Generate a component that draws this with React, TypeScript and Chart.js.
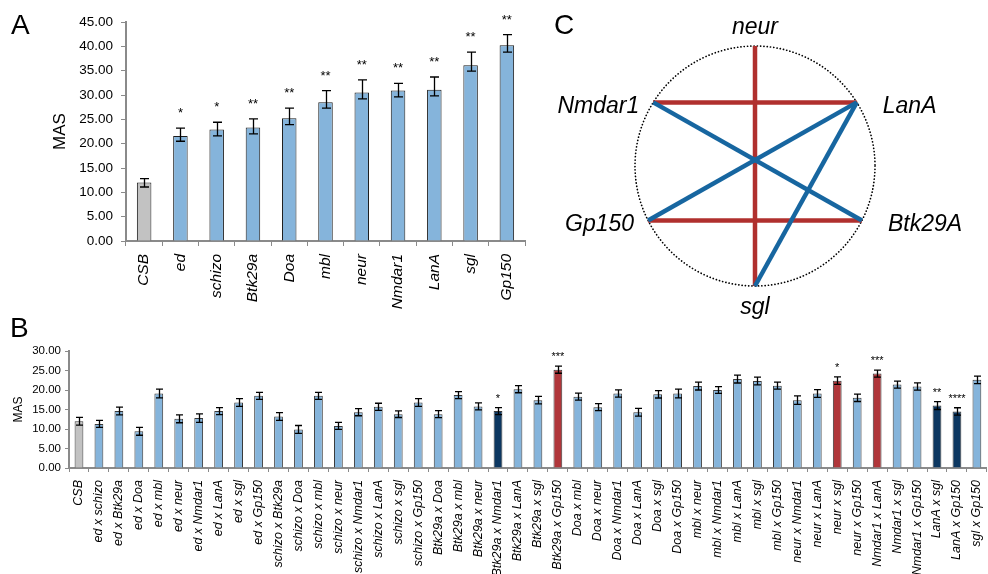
import React, { useEffect, useRef } from "react";
import { Chart, registerables } from "chart.js";

Chart.register(...registerables);

// ---------- Panel A data ----------
const aCategories = ["CSB", "ed", "schizo", "Btk29a", "Doa", "mbl", "neur", "Nmdar1", "LanA", "sgl", "Gp150"];
const aValues = [12.0, 21.6, 22.9, 23.3, 25.2, 28.5, 30.5, 30.9, 31.1, 36.1, 40.2];
const aErrUp = [0.8, 1.6, 1.5, 1.8, 2.1, 2.4, 2.6, 1.5, 2.6, 2.7, 2.2];
const aErrDown = [0.9, 1.1, 1.3, 1.3, 1.3, 1.2, 1.3, 1.3, 1.3, 1.2, 1.4];
const aStars = ["", "*", "*", "**", "**", "**", "**", "**", "**", "**", "**"];
const aTicks = { min: 0, max: 45, step: 5 };

// ---------- Panel B data ----------
const bCategories = [
  "CSB", "ed x schizo", "ed x Btk29a", "ed x Doa", "ed x mbl", "ed x neur", "ed x Nmdar1", "ed x LanA", "ed x sgl", "ed x Gp150",
  "schizo x Btk29a", "schizo x Doa", "schizo x mbl", "schizo x neur", "schizo x Nmdar1", "schizo x LanA", "schizo x sgl", "schizo x Gp150",
  "Btk29a x Doa", "Btk29a x mbl", "Btk29a x neur", "Btk29a x Nmdar1", "Btk29a x LanA", "Btk29a x sgl", "Btk29a x Gp150",
  "Doa x mbl", "Doa x neur", "Doa x Nmdar1", "Doa x LanA", "Doa x sgl", "Doa x Gp150",
  "mbl x neur", "mbl x Nmdar1", "mbl x LanA", "mbl x sgl", "mbl x Gp150",
  "neur x Nmdar1", "neur x LanA", "neur x sgl", "neur x Gp150",
  "Nmdar1 x LanA", "Nmdar1 x sgl", "Nmdar1 x Gp150",
  "LanA x sgl", "LanA x Gp150",
  "sgl x Gp150",
];
const bValues = [
  12.0, 11.3, 14.6, 9.4, 19.1, 12.6, 12.8, 14.6, 16.8, 18.5,
  13.2, 9.9, 18.5, 10.8, 14.3, 15.7, 13.8, 16.8,
  13.8, 18.7, 15.8, 14.6, 20.2, 17.4, 25.2,
  18.3, 15.6, 19.1, 14.3, 18.9, 19.1,
  21.0, 20.0, 22.8, 22.3, 21.1,
  17.4, 19.1, 22.4, 18.0,
  24.2, 21.4, 20.9,
  16.0, 14.5,
  22.6,
];
const bErrors = [
  1.0, 0.9, 1.0, 1.0, 1.1, 1.0, 1.1, 0.9, 1.0, 0.9,
  1.0, 1.0, 0.9, 0.9, 0.9, 0.9, 0.85, 1.0,
  0.9, 0.9, 0.9, 0.9, 0.9, 0.95, 0.9,
  0.9, 0.9, 0.95, 1.0, 0.95, 1.1,
  1.0, 0.85, 1.0, 1.0, 0.9,
  1.1, 1.0, 0.95, 0.95,
  0.9, 0.9, 0.95,
  1.0, 0.95,
  0.95,
];
// c = control, n = no interaction, e = enhanced, s = suppressed
const bGroups = [
  "c", "n", "n", "n", "n", "n", "n", "n", "n", "n",
  "n", "n", "n", "n", "n", "n", "n", "n",
  "n", "n", "n", "s", "n", "n", "e",
  "n", "n", "n", "n", "n", "n",
  "n", "n", "n", "n", "n",
  "n", "n", "e", "n",
  "e", "n", "n",
  "s", "s",
  "n",
];
const bStars = [
  "", "", "", "", "", "", "", "", "", "",
  "", "", "", "", "", "", "", "",
  "", "", "", "*", "", "", "***",
  "", "", "", "", "", "",
  "", "", "", "", "",
  "", "", "*", "",
  "***", "", "",
  "**", "****",
  "",
];
const bTicks = { min: 0, max: 30, step: 5 };

// ---------- Panel C data ----------
const cNodes = ["neur", "LanA", "Btk29A", "sgl", "Gp150", "Nmdar1"];
const cNodeAngles = [90, 32, -27, -90, -153, 148];
const cRedEdges = [["neur", "sgl"], ["Nmdar1", "LanA"], ["Gp150", "Btk29A"]];
const cBlueEdges = [["Nmdar1", "Btk29A"], ["Gp150", "LanA"], ["sgl", "LanA"]];

// ---------- styles ----------
const FONT = '"Liberation Sans", Arial, sans-serif';
const AXIS = "#8a8a8a";
const BLUE = "#85B4DB";
const GRAY = "#C2C2C2";
const RED = "#B0363A";
const NAVY = "#0C3761";
const EDGE_RED = "#B0302E";
const EDGE_BLUE = "#1766A0";
const groupColor: Record<string, string> = { c: GRAY, n: BLUE, e: RED, s: NAVY };

function errPlugin(up: number[], down: number[], stars: string[], capHalf: number, starSize: number, starOffset: number) {
  return {
    id: "errbars",
    afterDatasetsDraw(chart: any) {
      const ctx = chart.ctx;
      const meta = chart.getDatasetMeta(0);
      const y = chart.scales.y;
      const data = chart.data.datasets[0].data as number[];
      ctx.save();
      ctx.strokeStyle = "#000";
      ctx.lineWidth = 1.3;
      meta.data.forEach((bar: any, i: number) => {
        const x = Math.round(bar.x) + 0.5;
        const top = y.getPixelForValue(data[i] + up[i]);
        const bot = y.getPixelForValue(data[i] - down[i]);
        ctx.beginPath();
        ctx.moveTo(x, top);
        ctx.lineTo(x, bot);
        ctx.moveTo(x - capHalf, top);
        ctx.lineTo(x + capHalf, top);
        ctx.moveTo(x - capHalf, bot);
        ctx.lineTo(x + capHalf, bot);
        ctx.stroke();
        if (stars[i]) {
          ctx.font = `${starSize}px ${FONT}`;
          ctx.textAlign = "center";
          ctx.textBaseline = "alphabetic";
          ctx.fillStyle = "#000";
          ctx.fillText(stars[i], bar.x, top - starOffset);
        }
      });
      ctx.restore();
    },
  };
}

function axisOpts(tickLen: number) {
  return {
    grid: { display: true, drawOnChartArea: false, drawTicks: true, tickLength: tickLen, color: AXIS, lineWidth: 1 },
    border: { display: true, color: AXIS, width: 2 },
  };
}

export default function App() {
  const aRef = useRef<HTMLCanvasElement>(null);
  const bRef = useRef<HTMLCanvasElement>(null);
  const cRef = useRef<HTMLCanvasElement>(null);

  useEffect(() => {
    const charts: Chart[] = [];

    // ----- Panel A -----
    charts.push(
      new Chart(aRef.current!, {
        type: "bar",
        data: {
          labels: aCategories,
          datasets: [
            {
              data: aValues,
              backgroundColor: aCategories.map((_, i) => (i === 0 ? GRAY : BLUE)),
              borderColor: "#1c1c1c",
              borderWidth: 1,
              barPercentage: 0.4,
              categoryPercentage: 1,
            },
          ],
        },
        options: {
          responsive: false,
          animation: false,
          layout: { padding: { left: 46, top: 22, right: 10, bottom: 0 } },
          plugins: { legend: { display: false }, tooltip: { enabled: false } },
          scales: {
            x: {
              ...axisOpts(5),
              ticks: {
                autoSkip: false,
                minRotation: 90,
                maxRotation: 90,
                padding: 8,
                color: "#000",
                font: { family: FONT, size: 15.5, style: "italic" },
              },
              afterFit: (s: any) => {
                s.height = 84;
              },
            },
            y: {
              ...axisOpts(5),
              min: aTicks.min,
              max: aTicks.max,
              ticks: {
                stepSize: aTicks.step,
                padding: 8,
                color: "#000",
                font: { family: FONT, size: 13.5 },
                callback: (v: any) => Number(v).toFixed(2),
              },
              title: { display: true, text: "MAS", color: "#000", font: { family: FONT, size: 17 }, padding: { top: 4, bottom: 0 } },
              afterFit: (s: any) => {
                s.width = 80;
              },
            },
          },
        } as any,
        plugins: [errPlugin(aErrUp, aErrDown, aStars, 4.5, 13, 11)],
      })
    );

    // ----- Panel B -----
    charts.push(
      new Chart(bRef.current!, {
        type: "bar",
        data: {
          labels: bCategories,
          datasets: [
            {
              data: bValues,
              backgroundColor: bGroups.map((g) => groupColor[g]),
              borderColor: "#3a3a3a",
              borderWidth: 1,
              barPercentage: 0.44,
              categoryPercentage: 1,
            },
          ],
        },
        options: {
          responsive: false,
          animation: false,
          layout: { padding: { left: 6, top: 21, right: 9, bottom: 0 } },
          plugins: { legend: { display: false }, tooltip: { enabled: false } },
          scales: {
            x: {
              ...axisOpts(4),
              ticks: {
                autoSkip: false,
                minRotation: 90,
                maxRotation: 90,
                padding: 8,
                color: "#000",
                font: { family: FONT, size: 12.5, style: "italic" },
              },
              afterFit: (s: any) => {
                s.height = 106;
              },
            },
            y: {
              ...axisOpts(4),
              min: bTicks.min,
              max: bTicks.max,
              ticks: {
                stepSize: bTicks.step,
                padding: 4,
                color: "#000",
                font: { family: FONT, size: 11.5 },
                callback: (v: any) => Number(v).toFixed(2),
              },
              title: { display: true, text: "MAS", color: "#000", font: { family: FONT, size: 12 }, padding: { top: 5, bottom: 0 } },
              afterFit: (s: any) => {
                s.width = 63;
              },
            },
          },
        } as any,
        plugins: [errPlugin(bErrors, bErrors, bStars, 3.5, 11, 6)],
      })
    );

    // ----- Panel C -----
    const R = 120;
    const pos = (name: string) => {
      const a = (cNodeAngles[cNodes.indexOf(name)] * Math.PI) / 180;
      return { x: Math.cos(a), y: Math.sin(a) };
    };
    const edgeSet = (edges: string[][], color: string, order: number) =>
      edges.map((e) => ({
        data: [pos(e[0]), pos(e[1])],
        showLine: true,
        borderColor: color,
        borderWidth: 4.5,
        pointRadius: 0,
        borderCapStyle: "butt",
        order,
      }));
    const circlePlugin = {
      id: "circleLabels",
      beforeDatasetsDraw(chart: any) {
        const { ctx, scales } = chart;
        const cx = scales.x.getPixelForValue(0);
        const cy = scales.y.getPixelForValue(0);
        const r = scales.x.getPixelForValue(1) - cx;
        ctx.save();
        ctx.strokeStyle = "#000";
        ctx.lineWidth = 1.7;
        ctx.lineCap = "round";
        ctx.setLineDash([0.1, 3.2]);
        ctx.beginPath();
        ctx.arc(cx, cy, r, 0, Math.PI * 2);
        ctx.stroke();
        ctx.restore();
      },
      afterDatasetsDraw(chart: any) {
        const { ctx, scales } = chart;
        ctx.save();
        ctx.fillStyle = "#000";
        ctx.font = `italic 23px ${FONT}`;
        ctx.textBaseline = "alphabetic";
        cNodes.forEach((n) => {
          const p = pos(n);
          const x = scales.x.getPixelForValue(p.x);
          const y = scales.y.getPixelForValue(p.y);
          if (Math.abs(p.x) < 0.2) {
            ctx.textAlign = "center";
            ctx.fillText(n, x, p.y > 0 ? y - 12 : y + 28);
          } else if (p.x < 0) {
            ctx.textAlign = "right";
            ctx.fillText(n, x - 14, y + 11);
          } else {
            ctx.textAlign = "left";
            ctx.fillText(n, x + 26, y + 11);
          }
        });
        ctx.restore();
      },
    };
    charts.push(
      new Chart(cRef.current!, {
        type: "scatter",
        data: {
          datasets: [...edgeSet(cBlueEdges, EDGE_BLUE, 0), ...edgeSet(cRedEdges, EDGE_RED, 1)] as any,
        },
        options: {
          responsive: false,
          animation: false,
          layout: { padding: 0 },
          plugins: { legend: { display: false }, tooltip: { enabled: false } },
          scales: {
            x: { type: "linear", display: false, min: -215 / R, max: 233 / R },
            y: { type: "linear", display: false, min: -164 / R, max: 166 / R },
          },
        } as any,
        plugins: [circlePlugin],
      })
    );

    return () => charts.forEach((c) => c.destroy());
  }, []);

  const letter = (t: string, left: number, top: number) => (
    <div style={{ position: "absolute", left, top, font: `28px ${FONT}`, lineHeight: "28px", color: "#000" }}>{t}</div>
  );

  return (
    <div style={{ position: "fixed", left: 0, top: 0, width: 988, height: 574, overflow: "hidden", background: "#fff" }}>
      <canvas ref={aRef} width={535} height={325} style={{ position: "absolute", left: 0, top: 0 }} />
      <canvas ref={bRef} width={1000} height={244} style={{ position: "absolute", left: 0, top: 330 }} />
      <canvas ref={cRef} width={448} height={330} style={{ position: "absolute", left: 540, top: 0 }} />
      {letter("A", 11, 11)}
      {letter("B", 10, 314)}
      {letter("C", 554, 11)}
    </div>
  );
}
